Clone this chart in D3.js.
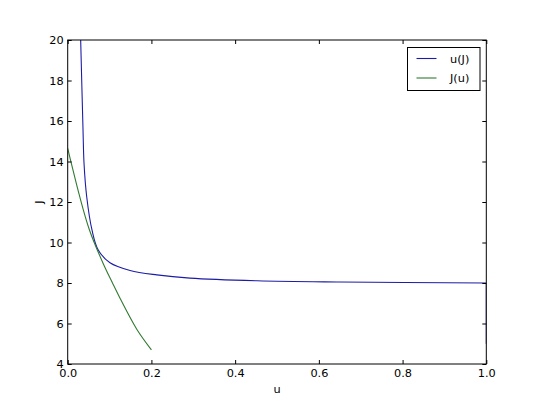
<!DOCTYPE html>
<html>
<head>
<meta charset="utf-8">
<script src="https://cdn.jsdelivr.net/npm/d3@7"></script>
<style>
  body { margin: 0; background: #fff; }
  svg { display: block; }
  text { font-family: "DejaVu Sans", sans-serif; }
</style>
</head>
<body>
<svg id="chart"></svg>
<script>
var width = 540
var height = 405

// u(J) curve
var blueU = [0.031, 0.0366, 0.039, 0.0454, 0.058, 0.073, 0.101, 0.149, 0.213, 0.292, 0.452, 0.65, 1.0]
var blueJ = [20, 15.56, 13.91, 12.26, 10.62, 9.63, 9.0, 8.62, 8.4, 8.24, 8.11, 8.05, 8.0]
// final drop at u = 1
var blueTailU = [1.0, 1.0]
var blueTailJ = [8.0, 5.0]

// J(u) curve
var greenU = [0, 0.009, 0.027, 0.052, 0.085, 0.107, 0.125, 0.165, 0.2]
var greenJ = [14.65, 13.88, 12.4, 10.62, 8.95, 8.0, 7.25, 5.72, 4.7]

var xTicks = [0, 0.2, 0.4, 0.6, 0.8, 1.0]
var yTicks = [4, 6, 8, 10, 12, 14, 16, 18, 20]
var seriesNames = ['u(J)', 'J(u)']
var seriesColors = ['#1c1ca6', '#2f7a2f']

var margin = {left: 67.7, right: 540 - 486.3, top: 40, bottom: 405 - 364}

var svg = d3.select('#chart').attr('width', width).attr('height', height)

var x = d3.scaleLinear().domain([0, 1]).range([margin.left, width - margin.right])
var y = d3.scaleLinear().domain([4, 20]).range([height - margin.bottom, margin.top])

svg.append('defs').append('clipPath').attr('id', 'clip')
	.append('rect')
	.attr('x', x(0)).attr('y', y(20))
	.attr('width', x(1) - x(0)).attr('height', y(4) - y(20))

function pairs(us, js) {
	return us.map(function(u, i) {return [u, js[i]]})
}

var line = d3.line()
	.x(function(d) {return x(d[0])})
	.y(function(d) {return y(d[1])})
	.curve(d3.curveCatmullRom.alpha(0.5))

var straight = d3.line()
	.x(function(d) {return x(d[0])})
	.y(function(d) {return y(d[1])})

var plot = svg.append('g').attr('clip-path', 'url(#clip)')

plot.append('path')
	.datum(pairs(blueU, blueJ))
	.attr('d', line)
	.attr('fill', 'none')
	.attr('stroke', seriesColors[0])
	.attr('stroke-width', 1.1)

plot.append('path')
	.datum(pairs(blueTailU, blueTailJ))
	.attr('d', straight)
	.attr('fill', 'none')
	.attr('stroke', seriesColors[0])
	.attr('stroke-width', 1.1)

plot.append('path')
	.datum(pairs(greenU, greenJ))
	.attr('d', line)
	.attr('fill', 'none')
	.attr('stroke', seriesColors[1])
	.attr('stroke-width', 1.1)

// axes, matplotlib classic: ticks inside on all four sides
var fmt = d3.format('.1f')
function styleAxis(g) {
	g.select('.domain').remove()
	g.selectAll('line').attr('stroke', '#000')
	g.selectAll('text').attr('font-size', '11.3px').attr('fill', '#000')
}

svg.append('g')
	.attr('transform', 'translate(0,' + y(4) + ')')
	.call(d3.axisBottom(x).tickValues(xTicks).tickFormat(fmt).tickSize(-4).tickPadding(5))
	.call(styleAxis)

svg.append('g')
	.attr('transform', 'translate(0,' + y(20) + ')')
	.call(d3.axisTop(x).tickValues(xTicks).tickFormat('').tickSize(-4))
	.call(styleAxis)

svg.append('g')
	.attr('transform', 'translate(' + x(0) + ',0)')
	.call(d3.axisLeft(y).tickValues(yTicks).tickFormat(d3.format('d')).tickSize(-4).tickPadding(4))
	.call(styleAxis)

svg.append('g')
	.attr('transform', 'translate(' + x(1) + ',0)')
	.call(d3.axisRight(y).tickValues(yTicks).tickFormat('').tickSize(-4))
	.call(styleAxis)

svg.append('rect')
	.attr('x', x(0)).attr('y', y(20))
	.attr('width', x(1) - x(0)).attr('height', y(4) - y(20))
	.attr('fill', 'none').attr('stroke', '#000').attr('stroke-width', 1)

// axis labels
svg.append('text')
	.attr('x', (x(0) + x(1)) / 2).attr('y', 393)
	.attr('text-anchor', 'middle').attr('font-size', '11.3px')
	.text('u')

svg.append('text')
	.attr('transform', 'translate(43,' + (y(4) + y(20)) / 2 + ') rotate(-90)')
	.attr('text-anchor', 'middle').attr('font-size', '11.3px')
	.text('J')

// legend
var legend = svg.append('g').attr('transform', 'translate(407.5,47.5)')
legend.append('rect')
	.attr('width', 72.5).attr('height', 43)
	.attr('fill', '#fff').attr('stroke', '#000').attr('stroke-width', 1)

seriesNames.forEach(function(name, i) {
	var yy = 11 + i * 19.5
	legend.append('line')
		.attr('x1', 9).attr('x2', 29).attr('y1', yy).attr('y2', yy)
		.attr('stroke', seriesColors[i]).attr('stroke-width', 1.1)
	legend.append('text')
		.attr('x', 42.5).attr('y', yy + 4)
		.attr('font-size', '11.3px')
		.text(name)
})
</script>
</body>
</html>
